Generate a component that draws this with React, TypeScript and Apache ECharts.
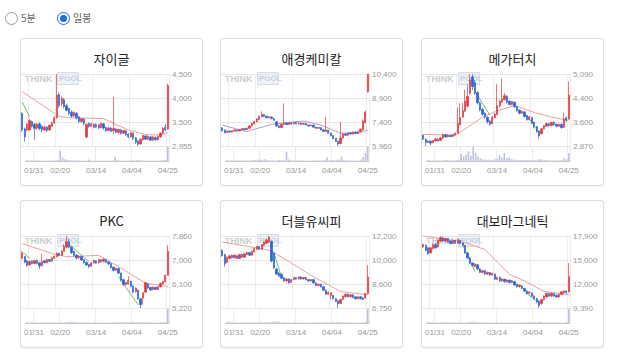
import React, { useEffect, useRef } from "react";
import * as echarts from "echarts";

const dates = ["01/28","01/29","01/30","01/31","02/01","02/07","02/08","02/11","02/12","02/13","02/14","02/15","02/18","02/19","02/20","02/21","02/22","02/25","02/26","02/27","02/28","03/04","03/05","03/06","03/07","03/08","03/11","03/12","03/13","03/14","03/15","03/18","03/19","03/20","03/21","03/22","03/25","03/26","03/27","03/28","03/29","04/01","04/02","04/03","04/04","04/05","04/08","04/09","04/10","04/11","04/12","04/15","04/16","04/17","04/18","04/19","04/22","04/23","04/24","04/25"];
const xTickLabels = ["01/31", "02/20", "03/14", "04/04", "04/25"];

// [open, close, low, high]
const jaigleCandles = [
[3650,3300,3260,3680],[3320,3150,3050,3350],[3300,3420,3280,3450],[3300,3500,3280,3540],[3480,3380,3350,3500],
[3420,3330,3090,3450],[3340,3420,3300,3450],[3430,3330,3290,3460],[3380,3300,3250,3400],[3300,3360,3280,3380],
[3360,3290,3260,3380],[3300,3400,3280,3420],[3380,3450,3360,3480],[3450,3560,3430,3600],[3560,4050,3540,4500],
[4060,3820,3780,4100],[3860,3980,3800,4020],[3950,3800,3760,3980],[3820,3720,3700,3860],[3760,3660,3620,3780],
[3680,3600,3560,3720],[3600,3680,3580,3700],[3660,3560,3520,3680],[3580,3480,3440,3600],[3480,3540,3450,3560],
[3530,3440,3400,3550],[3150,3420,3120,3440],[3440,3380,3350,3460],[3380,3430,3360,3450],[3420,3360,3330,3440],
[3360,3420,3340,3440],[3410,3350,3320,3430],[3350,3440,3330,3460],[3430,3340,3300,3450],[3350,3280,3260,3370],
[3290,3340,3270,3360],[3340,3270,3250,3360],[3280,3330,3220,4010],[3320,3250,3230,3340],[3250,3310,3220,3330],
[3300,3230,3200,3320],[3230,3290,3210,3300],[3280,3200,3170,3300],[3210,3150,3120,3230],[3150,3240,3140,3260],
[3230,3120,3080,3250],[3130,3040,3000,3150],[3060,2990,2955,3080],[3000,3100,2980,3120],[3090,3180,3070,3200],
[3170,3100,3080,3190],[3100,3160,3090,3180],[3150,3080,3060,3170],[3080,3150,3060,3170],[3140,3090,3070,3160],
[3090,3160,3080,3180],[3150,3230,3140,3250],[3230,3330,3210,3360],[3360,3300,3270,3420],[3320,4250,3300,4290]];
const jaigleVolume = [6,4,3,5,3,4,2,3,2,2,3,3,4,8,70,25,12,8,6,5,4,4,3,3,3,3,10,3,2,3,3,2,3,3,2,2,3,30,6,3,3,2,3,3,3,4,5,6,4,3,3,2,3,2,2,3,4,6,8,100];
const jaigleMaLong = [[0,4120],[15,3590],[20,3560],[33,3545],[37,3440],[43,3300],[50,3200],[56,3190],[59,3240]];
const jaigleMaShort = [[[0,3900],[3,3580]]];
const jaigleYLabels = ["2,955","3,500","4,000","4,500"];

const aekyungCandles = [
[7080,6900,6850,7120],[6950,6780,6740,6980],[6800,6880,6760,6900],[6880,6820,6780,6920],[6820,6900,6800,6930],
[6880,6950,6850,6980],[6950,6880,6850,6980],[6890,6980,6870,7010],[6960,7040,6940,7080],[7040,6960,6930,7060],
[6960,7060,6940,7100],[7050,7200,7020,7250],[7200,7350,7180,7400],[7330,7480,7300,7520],[7450,7620,7420,7680],
[7600,7780,7570,7850],[7760,7900,7720,8100],[7900,7780,7740,7950],[7800,7700,7650,7830],[7700,7760,7680,7800],
[7750,7650,7600,7780],[7650,7550,7520,7680],[7450,7200,7150,7480],[7200,7100,7050,7250],[7100,7300,7080,7330],
[7300,7380,7250,8600],[7380,7280,7240,7420],[7280,7400,7260,7440],[7400,7320,7280,7420],[7320,7420,7300,7450],
[7420,7330,7300,7440],[7330,7380,7310,7420],[7380,7300,7270,7400],[7300,7360,7280,7380],[7350,7260,7230,7370],
[7260,7200,7160,7280],[7200,7260,7180,7280],[7250,7120,7100,7270],[7130,7050,7000,7150],[7050,7100,7020,7120],
[7090,6950,6920,7110],[6960,6860,6830,6980],[6860,6950,6820,7750],[6940,6750,6720,6960],[6760,6600,6560,6780],
[6600,6420,6380,6620],[6440,6250,6200,6460],[6260,6080,5960,6280],[6100,6450,6080,7450],[6450,6700,6420,6740],
[6700,6620,6580,6730],[6620,6780,6600,6820],[6780,6700,6660,6800],[6700,6820,6680,6850],[6820,6740,6700,6840],
[6740,6860,6720,6900],[6860,7000,6840,7040],[6950,7500,6930,7600],[7400,8050,7350,8150],[9300,10400,9250,10400]];
const aekyungVolume = [5,4,3,3,3,4,3,3,4,3,4,6,7,8,9,8,12,6,5,4,4,4,8,5,6,65,10,5,4,4,3,3,3,3,3,3,3,4,4,3,4,5,25,6,6,7,8,10,30,8,5,4,4,3,3,4,10,30,55,100];
const aekyungMaLong = [[0,7250],[10,6850],[20,7300],[33,7500],[40,7250],[48,6750],[55,6750],[59,6950]];
const aekyungMaShort: number[][][] = [];
const aekyungYLabels = ["5,960","7,400","8,900","10,400"];

const megaCandles = [
[3200,3080,3050,3230],[3080,2980,2870,3100],[2980,3020,2960,3040],[3020,2960,2900,3040],[2970,3040,2950,3060],
[3030,3090,3010,3110],[3080,3030,3010,3100],[3040,3120,3020,3150],[3110,3220,3090,3250],[3220,3150,3130,3240],
[3150,3200,3130,3230],[3200,3160,3140,3220],[3160,3220,3150,3250],[3210,3260,3200,3290],[3260,3570,3240,4050],
[3520,3750,3500,4180],[3760,3960,3740,4190],[3950,4250,3920,4600],[4100,4400,4050,4780],[4500,4900,4450,5090],
[5000,4700,4600,5090],[4820,4500,4450,4900],[4520,4200,4150,4560],[4200,3980,3940,4230],[4000,3850,3800,4040],
[3880,3760,3720,3910],[3760,3620,3560,3790],[3640,3540,3500,3660],[3560,3760,3540,3800],[3740,3850,3720,3880],
[3840,4120,3820,4780],[4100,4250,4060,4300],[4230,4320,4200,4950],[4300,4420,4270,4500],[4400,4220,4180,4440],
[4250,4150,4120,4280],[4150,4240,4120,4260],[4220,4080,4050,4250],[4090,3960,3930,4110],[3980,3880,3850,4000],
[3880,3940,3860,3960],[3920,3780,3740,3950],[3800,3680,3650,3820],[3680,3760,3660,3800],[3750,3580,3540,3770],
[3600,3460,3420,3620],[3470,3320,3280,3490],[3330,3180,3100,3350],[3250,3400,3230,3430],[3400,3500,3380,3520],
[3480,3560,3460,3590],[3560,3500,3470,3580],[3500,3600,3480,3620],[3600,3530,3500,3620],[3540,3480,3450,3560],
[3480,3540,3460,3560],[3540,3440,3400,3560],[3450,3700,3430,3900],[3740,3660,3620,3780],[3700,4440,3680,4860]];
const megaVolume = [5,4,3,4,3,3,3,4,5,4,4,3,4,5,40,25,35,55,30,80,45,25,15,10,8,6,8,5,10,12,35,20,45,15,20,10,8,6,6,5,4,6,5,4,6,5,8,10,8,5,4,4,3,4,3,3,5,15,10,45];
const megaMaLong = [[0,3230],[13,3200],[20,3550],[25,3800],[30,3950],[37,4120],[45,3900],[52,3760],[59,3660]];
const megaMaShort = [[[21,4550],[27,3830]], [[42,3830],[47,3260]]];
const megaYLabels = ["2,870","3,600","4,400","5,090"];

const pkcCandles = [
[7040,7230,7000,7300],[7100,6900,6860,7130],[6950,6780,6740,6980],[6800,6920,6780,6960],[6930,6850,6820,6960],
[6850,6960,6830,6990],[6960,6860,6820,7000],[6880,6760,6660,6900],[6770,6920,6750,7200],[6950,6880,6860,6990],
[6880,7000,6860,7030],[7000,6930,6900,7020],[6940,7060,6920,7100],[7040,7120,7010,7150],[7100,7220,7080,7260],
[7230,7150,7120,7250],[7150,7300,7130,7350],[7300,7480,7280,7560],[7450,7650,7420,7860],[7650,7450,7400,7760],
[7450,7250,7200,7480],[7300,7150,7100,7320],[7160,7050,7000,7180],[7060,7120,7030,7150],[7110,6980,6950,7130],
[6990,6880,6840,7010],[6900,6800,6760,6920],[6820,6740,6680,6840],[6750,6880,6730,6900],[6870,6960,6850,6990],
[6950,6870,6840,6970],[6880,6990,6860,7020],[6990,6920,6890,7010],[6930,7010,6900,7040],[7000,6900,6870,7020],
[6910,6840,6800,6930],[6850,6700,6670,6870],[6720,6600,6560,6740],[6600,6680,6570,6700],[6670,6500,6460,6690],
[6500,6250,6200,6520],[6260,6080,6030,6280],[6080,6150,6050,6180],[6100,6230,6080,6380],[6200,6020,5980,6220],
[6030,5800,5760,6050],[5820,5950,5780,5980],[5880,5560,5520,5900],[5560,5340,5220,5580],[5580,5780,5340,5800],
[5800,6150,5780,6180],[6100,5950,5920,6130],[5980,5880,5850,6000],[5890,5990,5870,6010],[5980,5900,5880,6000],
[5900,6000,5880,6030],[6000,6120,5980,6160],[6100,6180,6080,6220],[6180,6420,6160,6450],[6420,7300,6400,7520]];
const pkcVolume = [5,4,4,3,3,4,3,4,6,4,4,3,4,4,5,4,6,7,9,8,6,5,4,4,4,5,4,3,4,4,3,4,3,3,3,4,5,5,4,5,7,6,5,6,5,6,5,7,8,6,7,5,4,4,3,4,5,5,8,100];
const pkcMaLong = [[0,7580],[12,7220],[18,7100],[31,7150],[39,6740],[50,6130],[59,6010]];
const pkcMaShort = [[[0,7280],[3,7040]], [[18,7640],[27,6920]], [[39,6370],[47,5340]]];
const pkcYLabels = ["5,220","6,100","7,000","7,860"];

const wcpCandles = [
[11100,10700,10650,11200],[10800,10100,9875,10850],[10200,10600,10150,10650],[10500,10700,10450,10750],[10750,10550,10500,10800],
[10550,10750,10500,10800],[10700,10500,10450,10750],[10500,10800,10450,10850],[10800,10600,10550,10850],[10600,10850,10550,10900],
[10800,10950,10750,11000],[10950,10750,10700,11000],[10750,11050,10700,11100],[11000,11250,10950,11300],[11200,11400,11150,11450],
[11400,11200,11150,11450],[11200,11550,11150,11600],[11500,11750,11450,11800],[11650,11900,11600,12000],[11750,12100,11700,12200],
[11800,10300,10200,11850],[10900,9800,9700,11000],[9700,9300,9250,9750],[9400,9150,9100,9450],[9300,9000,8950,9350],
[9050,8800,8750,9100],[8800,8950,8750,9000],[8950,8650,8600,9000],[8700,8900,8650,8950],[8900,9050,8850,9100],
[9050,8950,8900,9100],[8950,9100,8900,9150],[9100,8950,8900,9150],[8950,9050,8900,9100],[9050,8900,8850,9100],
[8900,8800,8750,8950],[8800,8900,8750,8950],[8900,8650,8600,8950],[8650,8450,8400,8700],[8450,8550,8400,8600],
[8550,8350,8300,8600],[8350,8100,8050,8400],[8100,7800,7750,8150],[7800,7950,7750,8000],[7700,7900,7400,7950],
[7700,7450,7400,7750],[7450,7250,7200,7500],[7300,7050,6750,7350],[7100,7400,7050,7450],[7400,7650,7350,7700],
[7600,7800,7550,7850],[7800,7600,7550,7850],[7600,7750,7550,7800],[7750,7550,7500,7800],[7600,7450,7400,7650],
[7450,7600,7400,7650],[7600,7450,7400,7650],[7500,7400,7350,7550],[7500,7850,7450,7900],[7850,9100,7800,10000]];
const wcpVolume = [5,6,4,4,3,4,3,4,3,4,4,3,4,5,5,4,6,6,7,8,12,10,8,6,5,4,4,4,3,3,3,3,3,3,3,3,3,4,4,3,4,5,6,4,5,6,6,8,6,5,4,4,3,3,3,3,3,3,8,100];
const wcpMaLong = [[0,11750],[17,11200],[20,11050],[32,9700],[37,9100],[48,8000],[59,7750]];
const wcpMaShort = [[[21,10875],[24,9125]]];
const wcpYLabels = ["6,750","8,600","10,000","12,200"];

const daeboCandles = [
[16600,16900,16500,17000],[16800,16200,16100,16900],[16500,15800,15700,16600],[15900,16500,15850,16600],[16400,16900,16350,17000],
[16900,16500,16400,17100],[16600,17400,16550,17500],[17300,17700,17200,17900],[17700,17300,17200,17800],[17300,17600,17200,17700],
[17600,17200,17100,17650],[17300,17000,16900,17400],[17000,17400,16950,17500],[17400,17050,16950,17450],[17050,17500,17000,17600],
[17400,17000,16900,17450],[17100,16800,16700,17150],[16800,15900,15800,16850],[15900,15300,15200,16000],[15300,14700,14600,15400],
[14700,14400,14300,14800],[14300,14600,14200,14700],[14500,14000,13900,14600],[14000,13600,13500,14100],[13600,13800,13500,13900],
[13800,13400,13300,13900],[13400,13600,13300,13700],[13600,13300,13200,13650],[13300,13500,13200,13550],[13400,12800,12700,13450],
[12800,13000,12700,13100],[13000,12600,12500,13100],[12600,12800,12500,12900],[12800,12500,12400,12850],[12500,12700,12400,12800],
[12700,12400,12300,12750],[12400,12600,12300,12700],[12500,12100,12000,12600],[12200,11900,11800,12300],[11900,12100,11800,12200],
[12000,11700,11600,12050],[11700,11400,11300,11800],[11400,11100,11000,11500],[11100,11300,11000,11350],[11200,10800,10700,11250],
[10800,10500,10400,10900],[10500,10100,10000,10600],[10200,9700,9390,10300],[9900,10400,9800,10500],[10400,10800,10300,10900],
[10700,11100,10600,11200],[11100,10800,10700,11200],[10800,11100,10700,11200],[11100,10800,10700,11150],[10900,10700,10600,11000],
[10700,11000,10600,11100],[11000,11300,10900,11400],[11200,11400,11100,11500],[11400,11200,11100,11500],[11300,13100,11200,14700]];
const daeboVolume = [4,5,4,3,4,3,5,6,5,4,4,3,4,3,4,3,4,6,7,8,6,5,5,4,4,3,3,3,4,3,3,3,3,3,3,3,3,4,4,3,4,4,5,4,5,5,6,8,6,5,4,4,3,3,3,3,3,3,6,100];
const daeboMaLong = [[0,17900],[16,17200],[25,16300],[35,13370],[41,12590],[49,11350],[59,10950]];
const daeboMaShort = [[[16,16800],[21,13700]], [[41,11340],[47,9970]]];
const daeboYLabels = ["9,390","12,000","15,000","17,900"];

const stocks = [
  { name: "자이글", candles: jaigleCandles, volume: jaigleVolume, maLong: jaigleMaLong, maShort: jaigleMaShort, yLabels: jaigleYLabels, lo: 2955, hi: 4500, maColor: "#eaa0a0" },
  { name: "애경케미칼", candles: aekyungCandles, volume: aekyungVolume, maLong: aekyungMaLong, maShort: aekyungMaShort, yLabels: aekyungYLabels, lo: 5960, hi: 10400, maColor: "#b79ac8" },
  { name: "메가터치", candles: megaCandles, volume: megaVolume, maLong: megaMaLong, maShort: megaMaShort, yLabels: megaYLabels, lo: 2870, hi: 5090, maColor: "#eaa0a0" },
  { name: "PKC", candles: pkcCandles, volume: pkcVolume, maLong: pkcMaLong, maShort: pkcMaShort, yLabels: pkcYLabels, lo: 5220, hi: 7860, maColor: "#eaa0a0" },
  { name: "더블유씨피", candles: wcpCandles, volume: wcpVolume, maLong: wcpMaLong, maShort: wcpMaShort, yLabels: wcpYLabels, lo: 6750, hi: 12200, maColor: "#eaa0a0" },
  { name: "대보마그네틱", candles: daeboCandles, volume: daeboVolume, maLong: daeboMaLong, maShort: daeboMaShort, yLabels: daeboYLabels, lo: 9390, hi: 17900, maColor: "#eaa0a0" },
];

const KFONT = '"Noto Sans CJK KR", "Noto Sans", sans-serif';
const LFONT = '"Liberation Sans", Arial, sans-serif';
const UP = "#e0393e";
const DOWN = "#2d63d8";

function buildOption(s: any) {
  const d = (s.hi - s.lo) / 3;
  const ticks = [s.lo, s.lo + d, s.lo + 2 * d, s.hi];
  const showIdx = (i: number) => xTickLabels.indexOf(dates[i]) >= 0;
  const maxVol = Math.max(...s.volume);
  const fmt = (v: number) => {
    let b = 0;
    for (let i = 0; i < ticks.length; i++) if (Math.abs(ticks[i] - v) < Math.abs(ticks[b] - v)) b = i;
    return s.yLabels[b];
  };
  const series: any[] = [
    {
      type: "line", xAxisIndex: 0, yAxisIndex: 0, data: s.maLong, showSymbol: false, z: 1,
      lineStyle: { color: s.maColor, width: 1 }, silent: true,
    },
    ...s.maShort.map((seg: any) => ({
      type: "line", xAxisIndex: 0, yAxisIndex: 0, data: seg, showSymbol: false, z: 1,
      lineStyle: { color: "#5cb85c", width: 0.9 }, silent: true,
    })),
    {
      type: "candlestick", xAxisIndex: 0, yAxisIndex: 0, data: s.candles, barWidth: 1.8, z: 3,
      itemStyle: { color: UP, color0: DOWN, borderColor: UP, borderColor0: DOWN, borderWidth: 0.7 },
    },
    {
      type: "bar", xAxisIndex: 1, yAxisIndex: 1, data: s.volume, barWidth: 1.5,
      itemStyle: { color: "#b9bedb" },
    },
  ];
  return {
    animation: false,
    title: {
      text: s.name, left: "center", top: 8,
      textStyle: { fontSize: 13, fontWeight: "normal", color: "#222", fontFamily: KFONT },
    },
    graphic: [
      { type: "text", left: 4, top: 35, z: 0, style: { text: "THINK", fill: "#cccccc", font: "bold 9px " + LFONT } },
      { type: "rect", left: 36, top: 33, z: 0, shape: { width: 21, height: 12 }, style: { fill: "#eef2f7", stroke: "#d6dde7", lineWidth: 1 } },
      { type: "text", left: 38, top: 35, z: 0, style: { text: "POOL", fill: "#c6d1de", font: "bold 8px " + LFONT } },
    ],
    grid: [
      { left: 0, width: 148, top: 35, height: 72 },
      { left: 0, width: 148, top: 107, height: 15 },
    ],
    xAxis: [
      {
        type: "category", data: dates, gridIndex: 0,
        axisLine: { show: false }, axisTick: { show: false }, axisLabel: { show: false },
        splitLine: { show: true, interval: showIdx, lineStyle: { color: "#ececec", width: 1 } },
      },
      {
        type: "category", data: dates, gridIndex: 1,
        axisLine: { show: true, lineStyle: { color: "#c8c8c8" } }, axisTick: { show: false },
        axisLabel: { interval: showIdx, fontSize: 8, color: "#999", margin: 5, fontFamily: LFONT },
        splitLine: { show: true, interval: showIdx, lineStyle: { color: "#ececec", width: 1 } },
      },
    ],
    yAxis: [
      {
        type: "value", gridIndex: 0, position: "right", min: s.lo, max: s.hi, scale: true,
        axisLine: { show: false },
        axisTick: { show: false, customValues: ticks },
        axisLabel: { customValues: ticks, formatter: fmt, fontSize: 8, color: "#999", margin: 3, fontFamily: LFONT },
        splitLine: { show: true, lineStyle: { color: "#e6e6e6", width: 1 } },
      },
      {
        type: "value", gridIndex: 1, min: 0, max: maxVol * 1.05, show: false, splitLine: { show: false },
      },
    ],
    series,
  };
}

function Card({ stock, left, top }: { stock: any; left: number; top: number }) {
  const ref = useRef<HTMLDivElement>(null);
  useEffect(() => {
    const chart = echarts.init(ref.current!, null, { renderer: "svg" });
    chart.setOption(buildOption(stock));
    return () => chart.dispose();
  }, [stock]);
  return (
    <div style={{ position: "absolute", left, top, width: 183, height: 148, boxSizing: "border-box", border: "1px solid #dedede", borderRadius: 3, background: "#fff", boxShadow: "0 1px 2px rgba(0,0,0,0.05)" }}>
      <div ref={ref} style={{ width: 181, height: 146 }} />
    </div>
  );
}

const cardLefts = [20, 220, 421];
const cardTops = [38, 200];

export default function App() {
  return (
    <div style={{ position: "fixed", left: 0, top: 0, width: 618, height: 357, background: "#fff", fontFamily: KFONT }}>
      <div style={{ position: "absolute", left: 5, top: 12, width: 11, height: 11, borderRadius: "50%", border: "1px solid #9a9a9a", background: "#fff" }} />
      <div style={{ position: "absolute", left: 21, top: 10, fontSize: 10, color: "#666", lineHeight: "15px" }}>5분</div>
      <div style={{ position: "absolute", left: 57, top: 12, width: 11, height: 11, borderRadius: "50%", border: "1px solid #1a6fd8", background: "#fff" }}>
        <div style={{ position: "absolute", left: 2, top: 2, width: 7, height: 7, borderRadius: "50%", background: "#1a6fd8" }} />
      </div>
      <div style={{ position: "absolute", left: 73, top: 10, fontSize: 10, color: "#666", lineHeight: "15px" }}>일봉</div>
      {stocks.map((s, i) => (
        <Card key={s.name} stock={s} left={cardLefts[i % 3]} top={cardTops[Math.floor(i / 3)]} />
      ))}
    </div>
  );
}
